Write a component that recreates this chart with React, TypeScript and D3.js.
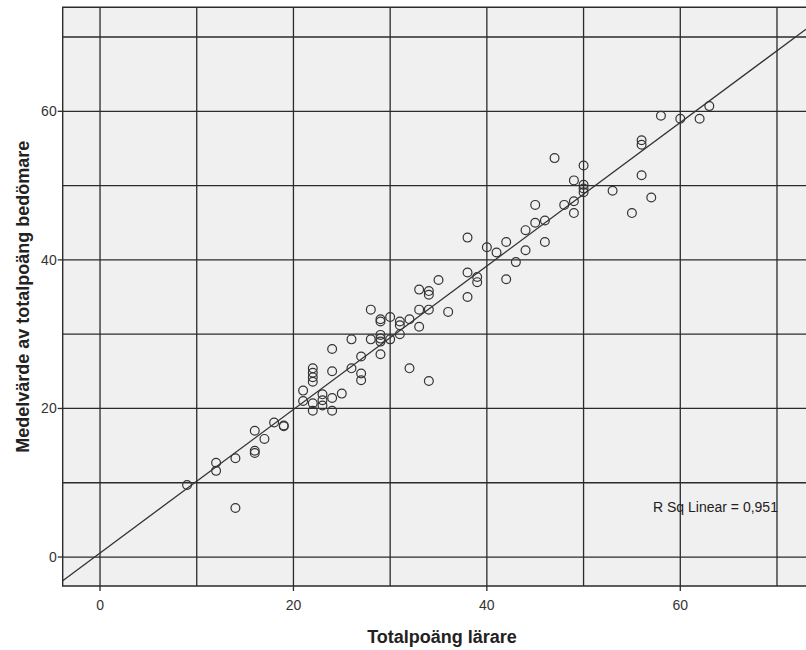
import React, { useEffect, useRef } from 'react';
import * as d3 from 'd3';

// Totalpoäng lärare (x) vs medelvärde av totalpoäng bedömare (y)
const teacherScores = [
  9, 12, 12, 14, 14, 16, 16, 16, 17, 18, 19, 19, 21, 21,
  22, 22, 22, 22, 22, 22, 23, 23, 23, 24, 24, 24, 24, 25,
  26, 26, 27, 27, 27, 28, 28, 29, 29, 29, 29, 29, 29, 30, 30,
  31, 31, 31, 32, 32, 33, 33, 33, 34, 34, 34, 34, 35, 36,
  38, 38, 38, 39, 39, 40, 41, 42, 42, 43, 44, 44, 45, 45, 46, 46,
  47, 48, 49, 49, 49, 50, 50, 50, 50, 53, 55, 56, 56, 56, 57, 58, 60, 62, 63,
];
const raterMeans = [
  9.7, 12.7, 11.6, 13.3, 6.6, 17.0, 14.3, 14.0, 15.9, 18.1, 17.7, 17.6, 22.4, 21.0,
  25.4, 24.8, 24.2, 23.6, 20.7, 19.7, 21.9, 21.1, 20.4, 28.0, 25.0, 21.4, 19.7, 22.0,
  29.3, 25.4, 27.0, 24.7, 23.8, 33.3, 29.3, 32.0, 31.7, 29.9, 29.4, 29.0, 27.3, 32.3, 29.3,
  31.7, 31.2, 30.0, 32.0, 25.4, 36.0, 33.3, 31.0, 35.8, 35.3, 33.3, 23.7, 37.3, 33.0,
  43.0, 38.3, 35.0, 37.7, 37.0, 41.7, 41.0, 42.4, 37.4, 39.7, 44.0, 41.3, 47.4, 45.0, 45.3, 42.4,
  53.7, 47.4, 50.7, 47.9, 46.3, 52.7, 50.1, 49.6, 49.1, 49.3, 46.3, 56.1, 55.5, 51.4, 48.4, 59.4, 59.0, 59.0, 60.7,
];

const gridValues = [0, 10, 20, 30, 40, 50, 60, 70];
const tickLabels = [0, 20, 40, 60];
const xTitle = 'Totalpoäng lärare';
const yTitle = 'Medelvärde av totalpoäng bedömare';
const fitLabel = 'R Sq Linear = 0,951';

const App: React.FC = () => {
  const svgRef = useRef<SVGSVGElement>(null);

  useEffect(() => {
    document.body.style.margin = '0';
    if (!svgRef.current) return;
    const svg = d3.select(svgRef.current);
    svg.selectAll('*').remove();

    const left = 62.7, top = 7.3, bottom = 586, right = 806;
    const x = d3.scaleLinear().domain([-3.86, 73]).range([left, right]);
    const y = d3.scaleLinear().domain([-3.9, 74]).range([bottom, top]);

    const points = teacherScores.map((t, i) => [t, raterMeans[i]] as [number, number]);

    // least squares fit
    const mx = d3.mean(teacherScores)!;
    const my = d3.mean(raterMeans)!;
    let sxy = 0, sxx = 0;
    points.forEach(([a, b]) => { sxy += (a - mx) * (b - my); sxx += (a - mx) * (a - mx); });
    const slope = sxy / sxx;
    const intercept = my - slope * mx;

    svg.append('defs').append('clipPath').attr('id', 'plot-clip')
      .append('rect').attr('x', left).attr('y', top).attr('width', right - left).attr('height', bottom - top);

    svg.append('rect')
      .attr('x', left).attr('y', top).attr('width', right - left).attr('height', bottom - top)
      .attr('fill', '#f0f0f0');

    const grid = svg.append('g').attr('stroke', '#2b2b2b').attr('stroke-width', 1.3);
    grid.selectAll('line.v').data(gridValues).join('line')
      .attr('class', 'v')
      .attr('x1', d => x(d)).attr('x2', d => x(d))
      .attr('y1', top).attr('y2', bottom);
    grid.selectAll('line.h').data(gridValues).join('line')
      .attr('class', 'h')
      .attr('y1', d => y(d)).attr('y2', d => y(d))
      .attr('x1', left).attr('x2', right);

    // frame
    svg.append('path')
      .attr('d', `M${right},${top}H${left}V${bottom}H${right}`)
      .attr('fill', 'none').attr('stroke', '#2b2b2b').attr('stroke-width', 1.4);

    // x axis ticks
    const xAxis = svg.append('g').attr('font-family', '"Liberation Sans", Arial, sans-serif')
      .attr('font-size', 14).attr('fill', '#333');
    xAxis.selectAll('line').data(tickLabels).join('line')
      .attr('x1', d => x(d)).attr('x2', d => x(d))
      .attr('y1', bottom).attr('y2', bottom + 5)
      .attr('stroke', '#2b2b2b').attr('stroke-width', 1.3);
    xAxis.selectAll('text').data(tickLabels).join('text')
      .attr('x', d => x(d)).attr('y', 610)
      .attr('text-anchor', 'middle')
      .text(d => d);

    // y axis ticks
    const yAxis = svg.append('g').attr('font-family', '"Liberation Sans", Arial, sans-serif')
      .attr('font-size', 14).attr('fill', '#333');
    yAxis.selectAll('line').data(tickLabels).join('line')
      .attr('y1', d => y(d)).attr('y2', d => y(d))
      .attr('x1', left - 5).attr('x2', left)
      .attr('stroke', '#2b2b2b').attr('stroke-width', 1.3);
    yAxis.selectAll('text').data(tickLabels).join('text')
      .attr('x', left - 6).attr('y', d => y(d)).attr('dy', '0.35em')
      .attr('text-anchor', 'end')
      .text(d => d);

    // fit line
    svg.append('line')
      .attr('clip-path', 'url(#plot-clip)')
      .attr('x1', x(-3.86)).attr('y1', y(intercept + slope * -3.86))
      .attr('x2', x(73)).attr('y2', y(intercept + slope * 73))
      .attr('stroke', '#333').attr('stroke-width', 1.3);

    // points
    svg.append('g')
      .selectAll('circle').data(points).join('circle')
      .attr('cx', d => x(d[0])).attr('cy', d => y(d[1]))
      .attr('r', 4.4)
      .attr('fill', 'none').attr('stroke', '#333').attr('stroke-width', 1.2);

    svg.append('text')
      .attr('x', 653).attr('y', 512)
      .attr('font-family', '"Liberation Sans", Arial, sans-serif')
      .attr('font-size', 14).attr('fill', '#222')
      .text(fitLabel);

    svg.append('text')
      .attr('x', 442).attr('y', 643)
      .attr('text-anchor', 'middle')
      .attr('font-family', '"Liberation Sans", Arial, sans-serif')
      .attr('font-weight', 'bold').attr('font-size', 18).attr('fill', '#222')
      .text(xTitle);

    svg.append('text')
      .attr('transform', `translate(29,${(top + bottom) / 2}) rotate(-90)`)
      .attr('text-anchor', 'middle')
      .attr('font-family', '"Liberation Sans", Arial, sans-serif')
      .attr('font-weight', 'bold').attr('font-size', 18).attr('fill', '#222')
      .text(yTitle);
  }, []);

  return <svg ref={svgRef} width={806} height={650} style={{ display: 'block', background: '#fff' }} />;
};

export default App;
